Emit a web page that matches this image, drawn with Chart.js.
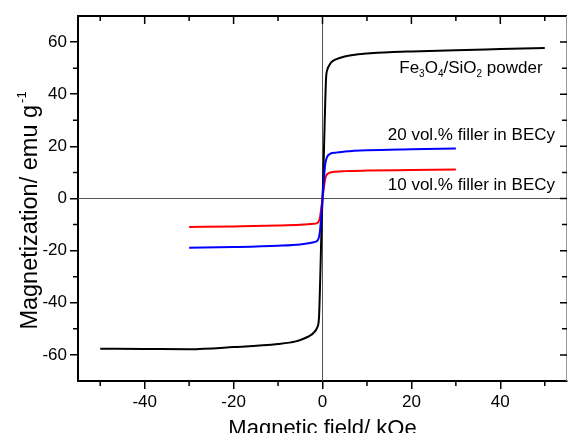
<!DOCTYPE html>
<html>
<head>
<meta charset="utf-8">
<script src="https://cdn.jsdelivr.net/npm/chart.js@4"></script>
<style>
  html, body { margin: 0; padding: 0; background: #fff; }
  canvas { display: block; }
</style>
</head>
<body>
<canvas id="chart" width="568" height="433"></canvas>
<script>
// Fe3O4/SiO2 powder, field in kOe, magnetization in emu/g
const powderField = [-50, -40, -30, -20, -10, -6, -4, -3, -2, -1.2, -0.8, -0.5, -0.2, 0, 0.2, 0.5, 0.8, 1.1, 1.5, 2, 3, 5, 8, 10, 15, 20, 30, 40, 50];
const powderMag = [-57.6, -57.7, -57.8, -57.0, -55.8, -54.8, -53.6, -52.8, -51.5, -49.5, -46, -30, -10, 0, 10, 30, 46, 49.5, 51, 52.3, 53.4, 54.5, 55.3, 55.6, 56.1, 56.4, 56.9, 57.3, 57.7];

// 20 vol.% filler in BECy
const blueField = [-30, -20, -10, -5, -2, -1, -0.6, -0.3, 0, 0.3, 0.6, 1, 1.5, 3, 5, 10, 20, 30];
const blueMag = [-18.9, -18.6, -18.1, -17.6, -16.8, -15.8, -13, -7, 0, 7, 13, 15.8, 16.9, 17.6, 18.0, 18.5, 18.9, 19.2];

// 10 vol.% filler in BECy
const redField = [-30, -20, -10, -5, -2, -1, -0.6, -0.3, 0, 0.3, 0.6, 1, 1.5, 3, 5, 10, 20, 30];
const redMag = [-10.9, -10.7, -10.4, -10.1, -9.7, -9.2, -7.5, -4, 0, 4, 7.5, 9.2, 9.8, 10.3, 10.5, 10.7, 10.9, 11.1];

// tick positions (every one gets a mark) and the ones that get a label
const xTickValues = [-50, -40, -30, -20, -10, 0, 10, 20, 30, 40, 50];
const yTickValues = [-60, -50, -40, -30, -20, -10, 0, 10, 20, 30, 40, 50, 60];
const xTickLabels = [-40, -20, 0, 20, 40];
const yTickLabels = [-60, -40, -20, 0, 20, 40, 60];

function toPoints(xs, ys) {
    return xs.map((x, i) => ({ x: x, y: ys[i] }));
}

// draws text made of normal and subscript pieces, right aligned
function drawRichText(ctx, parts, xRight, baseline) {
    const fonts = parts.map(p => p.sub ? "10px 'Liberation Sans', Arial, sans-serif" : "17px 'Liberation Sans', Arial, sans-serif");
    let total = 0;
    parts.forEach((p, i) => { ctx.font = fonts[i]; total += ctx.measureText(p.t).width; });
    let x = xRight - total;
    parts.forEach((p, i) => {
        ctx.font = fonts[i];
        ctx.fillText(p.t, x, baseline + (p.sub ? 4 : 0));
        x += ctx.measureText(p.t).width;
    });
}

const extrasPlugin = {
    id: "extras",
    beforeDatasetsDraw(chart) {
        const { ctx, chartArea: a, scales: { x, y } } = chart;
        const x0 = x.getPixelForValue(0);
        const y0 = y.getPixelForValue(0);
        ctx.save();
        ctx.strokeStyle = "#555";
        ctx.lineWidth = 1;
        ctx.beginPath();
        ctx.moveTo(a.left, y0); ctx.lineTo(a.right, y0);
        ctx.moveTo(x0, a.top); ctx.lineTo(x0, a.bottom);
        ctx.stroke();
        ctx.restore();
    },
    afterDraw(chart) {
        const { ctx, chartArea: a, scales: { x, y } } = chart;
        ctx.save();

        // top and right edges of the frame
        ctx.strokeStyle = "#000";
        ctx.lineWidth = 2;
        ctx.beginPath();
        ctx.moveTo(a.left - 1, a.top); ctx.lineTo(a.right, a.top);
        ctx.stroke();
        ctx.strokeStyle = "#999";
        ctx.lineWidth = 1;
        ctx.beginPath();
        ctx.moveTo(a.right - 0.5, a.top); ctx.lineTo(a.right - 0.5, a.bottom);
        ctx.stroke();

        // minor outward ticks, inward ticks on top and right
        ctx.strokeStyle = "#000";
        ctx.lineWidth = 1.5;
        ctx.beginPath();
        x.ticks.forEach(t => {
            const px = x.getPixelForValue(t.value);
            const major = xTickLabels.includes(t.value);
            if (!major) { ctx.moveTo(px, a.bottom); ctx.lineTo(px, a.bottom + 5); }
            ctx.moveTo(px, a.top); ctx.lineTo(px, a.top + (major ? 8 : 5));
        });
        y.ticks.forEach(t => {
            const py = y.getPixelForValue(t.value);
            const major = yTickLabels.includes(t.value);
            if (!major) { ctx.moveTo(a.left, py); ctx.lineTo(a.left - 5, py); }
            ctx.moveTo(a.right, py); ctx.lineTo(a.right - (major ? 7 : 5), py);
        });
        ctx.stroke();

        // curve labels
        ctx.fillStyle = "#000";
        ctx.textAlign = "left";
        ctx.textBaseline = "alphabetic";
        drawRichText(ctx, [
            { t: "Fe" }, { t: "3", sub: true }, { t: "O" }, { t: "4", sub: true },
            { t: "/SiO" }, { t: "2", sub: true }, { t: " powder" }
        ], x.getPixelForValue(49.5), y.getPixelForValue(48));
        drawRichText(ctx, [{ t: "20 vol.% filler in BECy" }], x.getPixelForValue(52.3), y.getPixelForValue(22.4));
        drawRichText(ctx, [{ t: "10 vol.% filler in BECy" }], x.getPixelForValue(52.3), y.getPixelForValue(3.4));

        // y axis title with superscript
        const mainFont = "23.5px 'Liberation Sans', Arial, sans-serif";
        const supFont = "13px 'Liberation Sans', Arial, sans-serif";
        const mainText = "Magnetization/ emu g";
        ctx.font = mainFont;
        const wMain = ctx.measureText(mainText).width;
        ctx.font = supFont;
        const wSup = ctx.measureText("-1").width;
        const cy = (a.top + a.bottom) / 2 + 13;
        ctx.translate(37, cy + (wMain + wSup) / 2);
        ctx.rotate(-Math.PI / 2);
        ctx.font = mainFont;
        ctx.fillText(mainText, 0, 0);
        ctx.font = supFont;
        ctx.fillText("-1", wMain + 2, -11);
        ctx.restore();
    }
};

const tickFont = { family: "'Liberation Sans', Arial, sans-serif", size: 17 };

new Chart(document.getElementById("chart"), {
    type: "scatter",
    data: {
        datasets: [
            {
                label: "20 vol.% filler in BECy",
                data: toPoints(blueField, blueMag),
                borderColor: "#0000ff",
            },
            {
                label: "10 vol.% filler in BECy",
                data: toPoints(redField, redMag),
                borderColor: "#ff0000",
            },
            {
                label: "Fe3O4/SiO2 powder",
                data: toPoints(powderField, powderMag),
                borderColor: "#000000",
            }
        ]
    },
    options: {
        responsive: false,
        animation: false,
        showLine: true,
        layout: { padding: { top: 16, right: 1, left: 0, bottom: 0 } },
        elements: {
            point: { radius: 0, hoverRadius: 0 },
            line: { borderWidth: 2, cubicInterpolationMode: "monotone" }
        },
        scales: {
            x: {
                type: "linear",
                min: -55,
                max: 55,
                afterFit: s => { s.height = 52; },
                afterBuildTicks: s => { s.ticks = xTickValues.map(v => ({ value: v })); },
                ticks: {
                    padding: 3,
                    color: "#000",
                    font: tickFont,
                    maxRotation: 0,
                    autoSkip: false,
                    callback: v => xTickLabels.includes(v) ? String(v) : ""
                },
                grid: {
                    drawOnChartArea: false,
                    tickLength: 8,
                    lineWidth: 1.5,
                    color: c => c.tick && xTickLabels.includes(c.tick.value) ? "#000" : "rgba(0,0,0,0)"
                },
                border: { display: true, color: "#000", width: 2 },
                title: {
                    display: true,
                    text: "Magnetic field/ kOe",
                    color: "#000",
                    font: { family: "'Liberation Sans', Arial, sans-serif", size: 22 },
                    padding: { top: 0, bottom: -9 }
                }
            },
            y: {
                type: "linear",
                min: -70,
                max: 70,
                afterFit: s => { s.width = 78; },
                afterBuildTicks: s => { s.ticks = yTickValues.map(v => ({ value: v })); },
                ticks: {
                    padding: 3,
                    color: "#000",
                    font: tickFont,
                    autoSkip: false,
                    callback: v => yTickLabels.includes(v) ? String(v) : ""
                },
                grid: {
                    drawOnChartArea: false,
                    tickLength: 8,
                    lineWidth: 1.5,
                    color: c => c.tick && yTickLabels.includes(c.tick.value) ? "#000" : "rgba(0,0,0,0)"
                },
                border: { display: true, color: "#000", width: 2 }
            }
        },
        plugins: {
            legend: { display: false },
            tooltip: { enabled: false }
        }
    },
    plugins: [extrasPlugin]
});
</script>
</body>
</html>
